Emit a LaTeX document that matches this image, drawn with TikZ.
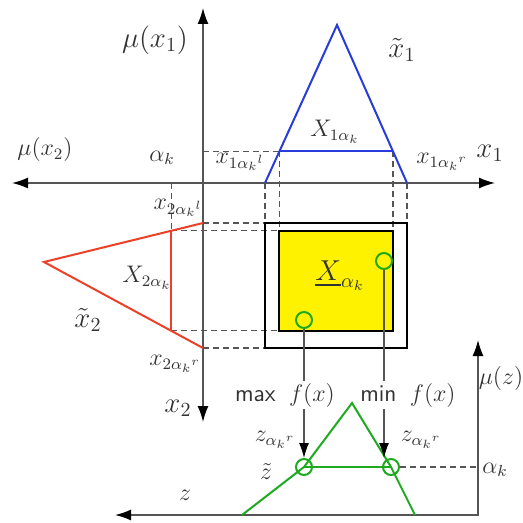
\documentclass[tikz,border=0pt]{standalone}
\usepackage{amsmath}
\usepackage{amssymb}
\usepackage{xcolor}
\usepackage{tikz}
\usetikzlibrary{arrows.meta,positioning,calc}

\definecolor{fuzzyblue}{RGB}{40,60,220}
\definecolor{fuzzyred}{RGB}{235,65,40}
\definecolor{fuzzygreen}{RGB}{30,170,30}
\definecolor{axisgray}{RGB}{85,85,85}

\begin{document}
\begin{tikzpicture}[
    x=0.5pt, y=-0.5pt,
    every node/.style={font=\large, text=black!80, inner sep=1pt},
    axis/.style={draw=axisgray, line width=0.75pt,
        {Latex[length=8pt,width=5.5pt,color=black]}-{Latex[length=8pt,width=5.5pt,color=black]}},
    guide/.style={draw=axisgray, line width=0.6pt, dash pattern=on 3pt off 2pt},
    bluefs/.style={draw=fuzzyblue, line width=1pt},
    redfs/.style={draw=fuzzyred, line width=1pt},
    greenfs/.style={draw=fuzzygreen, line width=1pt},
    hit/.style={circle, draw=fuzzygreen, line width=1pt, minimum size=8pt, inner sep=0pt},
    feed/.style={draw=axisgray, line width=0.6pt},
    feedarrow/.style={feed, -{Latex[length=7.5pt,width=5pt,color=black]}},
]
\useasboundingbox (0,0) rectangle (523,523);

% axes of the two inputs
\coordinate (xtop) at (203,8);
\coordinate (xbot) at (203,422);
\coordinate (xleft) at (12,183);
\coordinate (xright) at (495,183);

% fuzzy number x1 (blue)
\coordinate (b1) at (265,183);
\coordinate (bt) at (337,25);
\coordinate (b2) at (407,183);
\coordinate (bl) at ($(b1)!0.2!(bt)$);
\coordinate (br) at ($(b2)!0.2!(bt)$);

% fuzzy number x2 (red)
\coordinate (r1) at (203,223);
\coordinate (rt) at (44,262);
\coordinate (r2) at (203,348);
\coordinate (rl) at ($(r1)!0.2!(rt)$);
\coordinate (rr) at ($(r2)!0.2!(rt)$);

% dashed guides
\draw[guide] (bl -| xtop) -- (bl);
\draw[guide] (bl) -- (bl |- rl);
\draw[guide] (br) -- (br |- rl);
\draw[guide] (b1) -- (b1 |- r1);
\draw[guide] (b2) -- (b2 |- r1);
\draw[guide] (r1) -- (b1 |- r1);
\draw[guide] (r2) -- (b1 |- r2);
\draw[guide] (rl) -- (bl |- rl);
\draw[guide] (rr) -- (bl |- rr);
\draw[guide] (rl |- xleft) -- (rl);

% support box and alpha-cut box
\draw[black, line width=1.2pt] (b1 |- r1) rectangle (b2 |- r2);
\draw[fill=yellow, draw=black, line width=1pt] (bl |- rl) rectangle (br |- rr);

\draw[axis] (xbot) -- (xtop);
\draw[axis] (xleft) -- (xright);

\draw[bluefs] (b1) -- (bt) -- (b2);
\draw[bluefs] (bl) -- (br);
\draw[redfs] (r1) -- (rt) -- (r2);
\draw[redfs] (rl) -- (rr);

% output axis
\coordinate (zo) at (478,515);
\coordinate (zleft) at (115,515);
\coordinate (ztop) at (478,340);
\draw[axis] (zleft) -- (zo) -- (ztop);

% fuzzy output z (green)
\coordinate (g1) at (242,515);
\coordinate (gt) at (352,403);
\coordinate (g2) at (415,515);
\node[hit] (zl) at (304,467) {};
\node[hit] (zr) at (391,467) {};
\draw[greenfs] (g1) -- (zl.center) -- (gt) -- (zr.center) -- (g2);
\draw[greenfs] (zl.center) -- (zr.center);
\draw[guide] (zr.east) -- (zr -| zo);

% extreme points in the cut
\node[hit] (pmax) at (304,320) {};
\node[hit] (pmin) at (384,261) {};

\node (maxlbl) at (285,395) {\textsf{max}\;\;$f(x)$};
\node (minlbl) at (408,395) {\textsf{min}\;\;$f(x)$};
\draw[feed] (pmax.south) -- (pmax.south |- maxlbl.north);
\draw[feedarrow] (zl |- maxlbl.south) -- (zl.north);
\draw[feed] (pmin.south) -- (pmin.south |- minlbl.north);
\draw[feedarrow] (pmin |- minlbl.south) -- (pmin |- zr.north);

% labels
\node[font=\Large] (mux1) at (155,40) {$\mu(x_{1})$};
\node[font=\Large] (xt1) at (402,50) {$\tilde{x}_{1}$};
\node (X1) at (335,132) {$X_{1\alpha_k}$};
\node[font=\Large] (x1lbl) at (490,153) {$x_{1}$};
\node (x1r) at (442,162) {$x_{1{\alpha_k}^{r}}$};
\node (x1l) at (240,162) {$x_{1{\alpha_k}^{l}}$};
\node (ak1) at (162,158) {$\alpha_k$};
\node (mux2) at (45,150) {$\mu(x_{2})$};
\node (x2l) at (178,208) {$x_{2{\alpha_k}^{l}}$};
\node (X2) at (147,278) {$X_{2\alpha_k}$};
\node[font=\Large] (xt2) at (88,320) {$\tilde{x}_{2}$};
\node (x2r) at (175,364) {$x_{2{\alpha_k}^{r}}$};
\node[font=\Large] (x2lbl) at (178,408) {$x_{2}$};
\node[font=\Large] (Xa) at (340,276) {$\underline{X}_{\alpha_k}$};
\node (muz) at (501,378) {$\mu(z)$};
\node (akz) at (495,470) {$\alpha_k$};
\node (zlbl) at (185,495) {$z$};
\node (zt) at (266,472) {$\tilde{z}$};
\node (zal) at (275,440) {$z_{{\alpha_k}^{r}}$};
\node (zar) at (421,440) {$z_{{\alpha_k}^{r}}$};

\end{tikzpicture}
\end{document}
